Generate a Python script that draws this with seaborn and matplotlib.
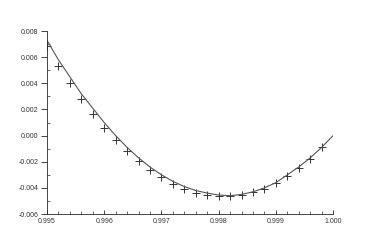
import numpy as np
import pandas as pd
import seaborn as sns
import matplotlib
matplotlib.use("Agg")
import matplotlib.pyplot as plt
from matplotlib.ticker import MultipleLocator, FormatStrFormatter

# measured points (crosses)
x_pts = [0.9950, 0.9952, 0.9954, 0.9956, 0.9958, 0.9960, 0.9962, 0.9964, 0.9966,
         0.9968, 0.9970, 0.9972, 0.9974, 0.9976, 0.9978, 0.9980, 0.9982, 0.9984,
         0.9986, 0.9988, 0.9990, 0.9992, 0.9994, 0.9996, 0.9998]
y_pts = [0.00685, 0.00535, 0.00405, 0.0028, 0.00167, 0.0006, -0.00032, -0.0012, -0.00195,
         -0.00266, -0.00317, -0.00373, -0.00411, -0.0044, -0.00455, -0.00465, -0.00465, -0.00452,
         -0.00434, -0.00407, -0.00363, -0.00307, -0.00246, -0.00177, -0.0009]

# fitted curve
x_fit = [0.9950, 0.9952, 0.9954, 0.9956, 0.9958, 0.9960, 0.9962, 0.9964, 0.9966,
         0.9968, 0.9970, 0.9972, 0.9974, 0.9976, 0.9978, 0.9980, 0.9982, 0.9984,
         0.9986, 0.9988, 0.9990, 0.9992, 0.9994, 0.9996, 0.9998, 1.0000]
y_fit = [0.0073, 0.0058, 0.0045, 0.0032, 0.0021, 0.0010, 0.0000, -0.0009, -0.0017,
         -0.0024, -0.0030, -0.0035, -0.0039, -0.0042, -0.0044, -0.00455, -0.0046, -0.0045,
         -0.0043, -0.0040, -0.0036, -0.0030, -0.0024, -0.0017, -0.0009, 0.0000]

pts = pd.DataFrame({"x": x_pts, "y": y_pts})
fit = pd.DataFrame({"x": x_fit, "y": y_fit})

sns.set_style("ticks")
plt.rcParams["font.family"] = ["Liberation Sans", "DejaVu Sans"]
fig = plt.figure(figsize=(3.82, 2.45), dpi=100)
ax = fig.add_axes([0.123, 0.1265, 0.749, 0.7465])

sns.lineplot(data=fit, x="x", y="y", ax=ax, color="#555555", linewidth=0.8)
sns.scatterplot(data=pts, x="x", y="y", ax=ax, marker="+", color="#333333",
                s=30, linewidth=0.7)

ax.set_xlim(0.995, 1.000)
ax.set_ylim(-0.006, 0.008)
ax.xaxis.set_major_locator(MultipleLocator(0.001))
ax.xaxis.set_minor_locator(MultipleLocator(0.0002))
ax.yaxis.set_major_locator(MultipleLocator(0.002))
ax.yaxis.set_minor_locator(MultipleLocator(0.001))
ax.xaxis.set_major_formatter(FormatStrFormatter("%.3f"))
ax.yaxis.set_major_formatter(FormatStrFormatter("%.3f"))
ax.tick_params(axis="x", which="major", direction="in", length=3, width=0.6, pad=3)
ax.tick_params(axis="y", which="major", direction="out", length=4, width=0.6, pad=2)
ax.tick_params(which="major", labelsize=5, labelcolor="#333333")
ax.tick_params(which="minor", direction="in", length=2, width=0.5)
ax.set_xlabel("")
ax.set_ylabel("")
sns.despine(ax=ax)
for s in ["left", "bottom"]:
    ax.spines[s].set_linewidth(0.6)

fig.savefig("out.png", dpi=100)
